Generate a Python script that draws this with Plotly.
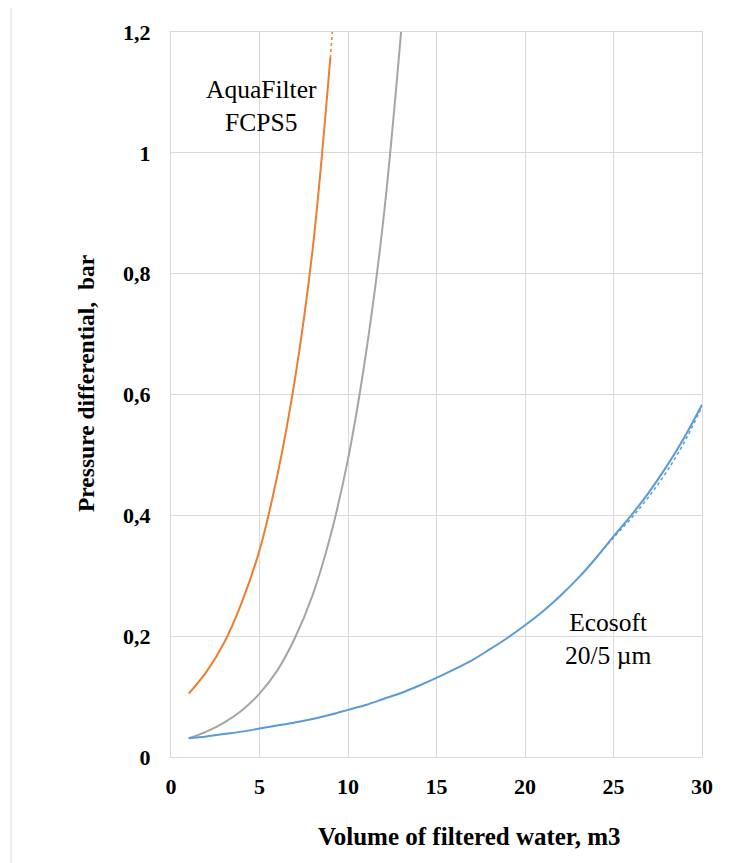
import plotly.graph_objects as go

# ---- data ----
x_aqua = [1, 2, 3, 4, 5, 6, 7, 8, 9]
y_aqua = [0.105, 0.141, 0.189, 0.256, 0.342, 0.465, 0.625, 0.840, 1.157]
x_aqua_trend = [9.0, 9.08, 9.16]
y_aqua_trend = [1.157, 1.187, 1.215]

x_gray = [1, 2, 3, 4, 5, 6, 7, 8, 9, 10, 11, 12, 13]
y_gray = [0.031, 0.042, 0.057, 0.077, 0.105, 0.143, 0.197, 0.268, 0.365, 0.493, 0.665, 0.890, 1.200]

x_eco = list(range(1, 31))
y_eco = [0.031, 0.034, 0.038, 0.042, 0.047, 0.052, 0.057, 0.063, 0.070, 0.078,
         0.086, 0.096, 0.106, 0.118, 0.131, 0.145, 0.160, 0.178, 0.197, 0.218,
         0.241, 0.267, 0.296, 0.329, 0.365, 0.400, 0.438, 0.481, 0.529, 0.583]
x_eco_trend = [24, 25, 26, 27, 28, 29, 30]
y_eco_trend = [0.329, 0.363, 0.395, 0.431, 0.472, 0.521, 0.580]

x_ticks = [0, 5, 10, 15, 20, 25, 30]
y_ticks = [0, 0.2, 0.4, 0.6, 0.8, 1.0, 1.2]

label_aqua = "AquaFilter<br>FCPS5"
label_eco = "Ecosoft<br>20/5 µm"
x_title = "Volume of filtered water, m3"
y_title = "Pressure differential,  bar"

ORANGE = "#ED7D31"
GRAY = "#A5A5A5"
BLUE = "#5B9BD5"
GRID = "#D9D9D9"
FONT = "Liberation Serif, Times New Roman, serif"

fig = go.Figure()
fig.add_trace(go.Scatter(x=x_aqua_trend, y=y_aqua_trend, mode="lines",
                         line=dict(color=ORANGE, width=1.5, dash="dot"),
                         showlegend=False, hoverinfo="skip"))
fig.add_trace(go.Scatter(x=x_eco_trend, y=y_eco_trend, mode="lines",
                         line=dict(color=BLUE, width=1.5, dash="dot", shape="spline"),
                         showlegend=False, hoverinfo="skip"))
fig.add_trace(go.Scatter(x=x_aqua, y=y_aqua, mode="lines",
                         line=dict(color=ORANGE, width=2, shape="spline", smoothing=1),
                         showlegend=False))
fig.add_trace(go.Scatter(x=x_gray, y=y_gray, mode="lines",
                         line=dict(color=GRAY, width=2, shape="spline", smoothing=1),
                         showlegend=False))
fig.add_trace(go.Scatter(x=x_eco, y=y_eco, mode="lines",
                         line=dict(color=BLUE, width=2, shape="spline", smoothing=1),
                         showlegend=False))

L, R, T, B = 171, 27, 32, 106
W, H = 729, 863
pw = W - L - R
ph = H - T - B

fig.update_layout(
    width=W, height=H,
    margin=dict(l=L, r=R, t=T, b=B, pad=0),
    paper_bgcolor="white", plot_bgcolor="white",
    separators=", ",
    font=dict(family=FONT, color="black"),
    showlegend=False,
)
fig.update_xaxes(range=[0, 30], tickvals=x_ticks, showgrid=True, gridcolor=GRID, gridwidth=1,
                 zeroline=False, showline=True, linecolor=GRID, linewidth=1, mirror=True,
                 ticks="", ticklabelstandoff=10,
                 tickfont=dict(family=FONT, size=22, color="black", weight="bold"))
fig.update_yaxes(range=[0, 1.2], tickvals=y_ticks, showgrid=True, gridcolor=GRID, gridwidth=1,
                 zeroline=False, showline=True, linecolor=GRID, linewidth=1, mirror=True,
                 ticks="", ticklabelstandoff=15,
                 tickfont=dict(family=FONT, size=22, color="black", weight="bold"))

fig.add_annotation(text=label_aqua, x=5.1, y=1.077, xref="x", yref="y",
                   showarrow=False, xanchor="center", yanchor="middle",
                   font=dict(family=FONT, size=25.5, color="black"))
fig.add_annotation(text=label_eco, x=24.7, y=0.195, xref="x", yref="y",
                   showarrow=False, xanchor="center", yanchor="middle",
                   font=dict(family=FONT, size=25.5, color="black"))

fig.add_annotation(text=x_title, x=(469.5 - L) / pw, y=0, xref="paper", yref="paper",
                   yshift=-(836 - (T + ph)), showarrow=False, xanchor="center", yanchor="middle",
                   font=dict(family=FONT, size=25, color="black", weight="bold"))
fig.add_annotation(text=y_title, x=0, y=(T + ph - 384) / ph, xref="paper", yref="paper",
                   xshift=86 - L, textangle=-90, showarrow=False, xanchor="center", yanchor="middle",
                   font=dict(family=FONT, size=23.5, color="black", weight="bold"))

fig.add_shape(type="line", xref="paper", yref="paper",
              x0=(11 - L) / pw, x1=(11 - L) / pw, y0=(T + ph - H) / ph, y1=(T + ph - 8) / ph,
              line=dict(color=GRID, width=1))

fig.write_html("out.html")
